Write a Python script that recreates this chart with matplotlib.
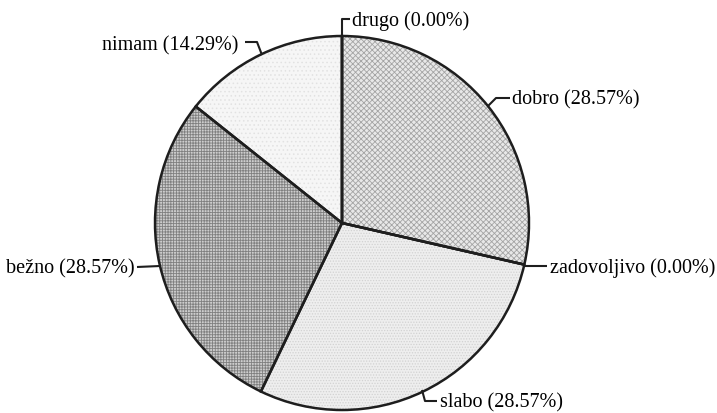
import numpy as np
import matplotlib
matplotlib.use("Agg")
import matplotlib.pyplot as plt

# answer categories, clockwise from the top
labels = ["dobro", "zadovoljivo", "slabo", "bežno", "nimam", "drugo"]
percents = [28.57, 0.00, 28.57, 28.57, 14.29, 0.00]

# grey tones / hatching per slice (scanned print look)
face_cols = ["#e8e8e8", "#e8e8e8", "#eeeeee", "#cdcdcd", "#f6f6f6", "#f6f6f6"]
hatch_cols = ["#a4a4a4", "#a4a4a4", "#d2d2d2", "#808080", "#e2e2e2", "#e2e2e2"]
hatches = ["xxxxxx", "xxxxxx", "......", "++++++", "....", "...."]

W, H = 717, 414
cx, cy, R = 342, 224, 187  # pie centre and radius in pixels

plt.rcParams["font.family"] = ["Liberation Serif", "DejaVu Serif"]
plt.rcParams["hatch.linewidth"] = 0.6

fig = plt.figure(figsize=(W / 100, H / 100), dpi=100)
ax = fig.add_axes([0, 0, 1, 1])

# hatch layer
wedges, _ = ax.pie(percents, startangle=90, counterclock=False, radius=1,
                   colors=face_cols, wedgeprops=dict(linewidth=0))
for w, hc, h in zip(wedges, hatch_cols, hatches):
    w.set_hatch(h)
    w.set_edgecolor(hc)
    w.set_linewidth(0)

# outline layer
ax.pie(percents, startangle=90, counterclock=False, radius=1,
       colors=["none"] * len(percents),
       wedgeprops=dict(linewidth=1.8, edgecolor="#1e1e1e", fill=False))

# pie() resets the limits, so place the pie afterwards
ax.set_aspect("auto")
ax.set_xlim(-cx / R, (W - cx) / R)
ax.set_ylim((cy - H) / R, cy / R)
ax.axis("off")


def px(x, y):
    return (x - cx) / R, (cy - y) / R


# leader lines (pixel layout) and text anchors
leaders = {
    "drugo": ([(342, 37), (342, 20), (350, 20)], (352, 21), "left"),
    "dobro": ([(488, 107), (496, 99), (510, 99)], (512, 100), "left"),
    "zadovoljivo": ([(525, 267), (547, 267)], (550, 268), "left"),
    "slabo": ([(422, 391), (425, 402), (437, 402)], (440, 403), "left"),
    "bežno": ([(160, 267), (137, 268)], (135, 269), "right"),
    "nimam": ([(262, 56), (257, 43), (245, 43)], (238, 46), "right"),
}

for lab, pct in zip(labels, percents):
    pts, tpos, ha = leaders[lab]
    xs, ys = zip(*[px(*p) for p in pts])
    ax.plot(xs, ys, color="#1e1e1e", lw=1.5, solid_capstyle="butt")
    tx, ty = px(*tpos)
    ax.text(tx, ty, f"{lab} ({pct:.2f}%)", ha=ha, va="center",
            fontsize=14.5, color="#000000")

fig.savefig("out.png", dpi=100)
